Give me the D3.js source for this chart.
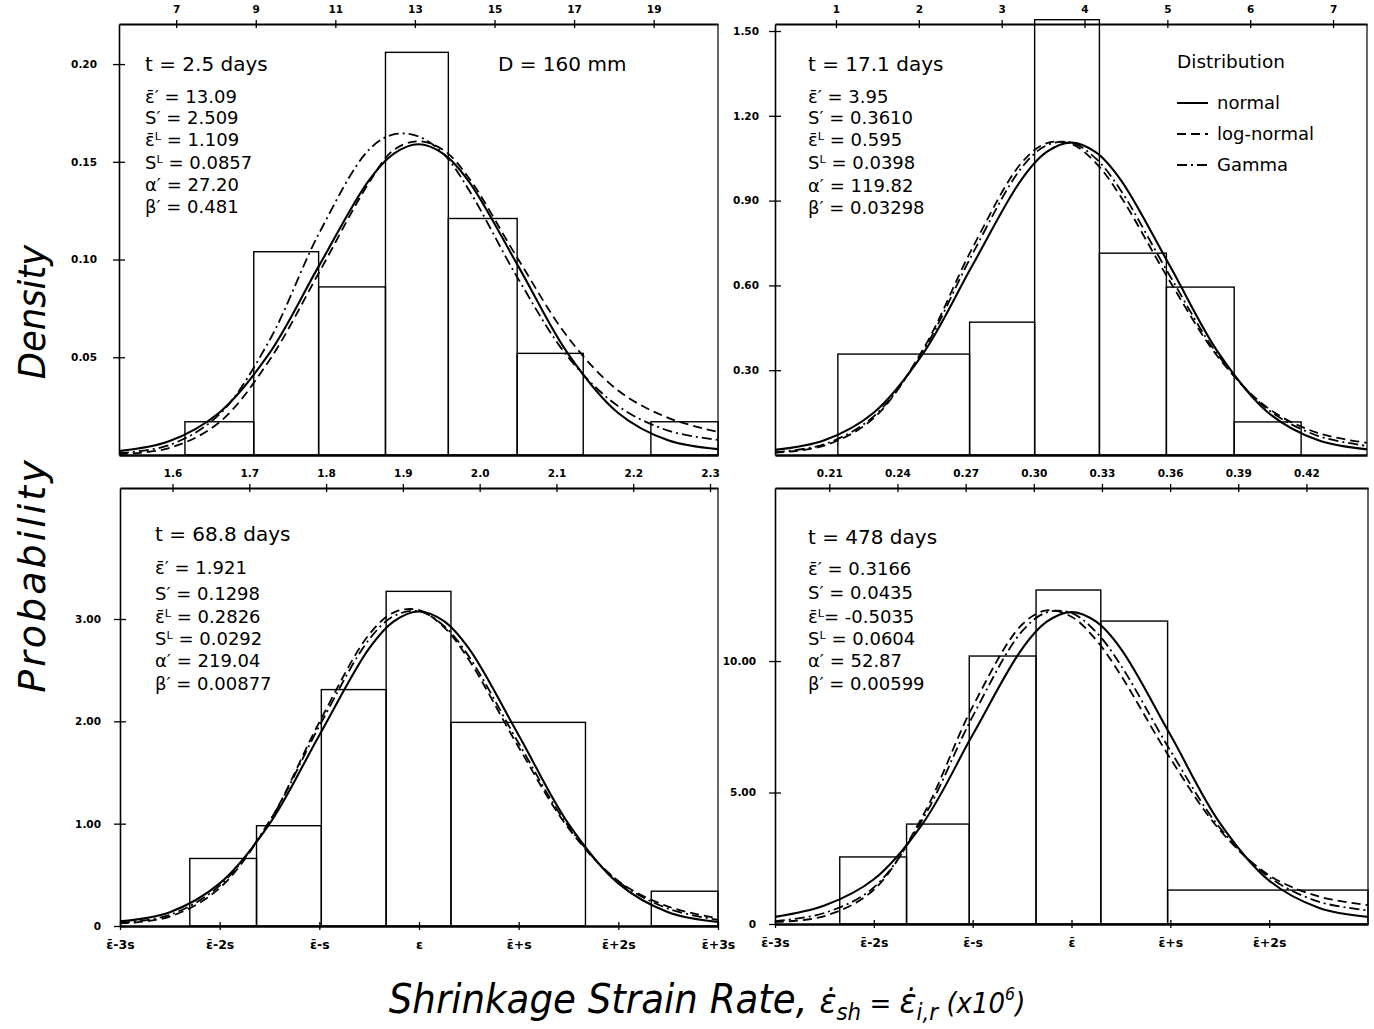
<!DOCTYPE html>
<html>
<head>
<meta charset="utf-8">
<script src="https://cdn.jsdelivr.net/npm/d3@7"></script>
<style>
  body { margin: 0; background: #fff; }
  svg { display: block; }
  text { font-family: "DejaVu Sans", "Noto Sans", sans-serif; fill: #000; }
</style>
</head>
<body>
<svg id="chart" width="1374" height="1029"></svg>
<script>
// ---------- Panel A: t = 2.5 days ----------
const aMean = 13.09, aSd = 2.509;
const aEdges = [7.22, 8.95, 10.58, 12.26, 13.84, 15.57, 17.23, 18.93, 20.62];
const aHeights = [0.017, 0.104, 0.086, 0.206, 0.121, 0.052, 0, 0.017];
const aCurveX = [5.563, 6.818, 8.072, 9.327, 10.581, 11.836, 12.463, 13.09, 13.717, 14.345, 15.599, 16.854, 18.108, 19.363, 20.617];
const aNormal = [0.0020, 0.0070, 0.0215, 0.0516, 0.0965, 0.1403, 0.1541, 0.1590, 0.1541, 0.1403, 0.0965, 0.0516, 0.0215, 0.0075, 0.0030];
const aLogNormal = [0.0005, 0.0035, 0.0165, 0.0480, 0.0930, 0.1390, 0.1560, 0.1605, 0.1560, 0.1420, 0.1000, 0.0600, 0.0330, 0.0190, 0.0118];
const aGamma = [0.0010, 0.0050, 0.0205, 0.0580, 0.1130, 0.1560, 0.1640, 0.1630, 0.1540, 0.1360, 0.0900, 0.0500, 0.0250, 0.0125, 0.0077];
const aTopTicks = [7, 9, 11, 13, 15, 17, 19];
const aYTicks = [0.05, 0.10, 0.15, 0.20];
const aYLabels = ["0.05", "0.10", "0.15", "0.20"];
const aLines = ["ε̄′ = 13.09", "S′ = 2.509", "ε̄ᴸ = 1.109", "Sᴸ = 0.0857", "α′ = 27.20", "β′ = 0.481"];

// ---------- Panel B: t = 17.1 days ----------
const bMean = 3.95, bSd = 0.3610;
const bEdges = [3.097, 3.579, 3.817, 4.054, 4.299, 4.547, 4.792];
const bHeights = [0.357, 0.47, 1.54, 0.714, 0.594, 0.117];
const bCurveX = [2.867, 3.0475, 3.228, 3.4085, 3.589, 3.7695, 3.8598, 3.95, 4.0403, 4.1305, 4.311, 4.4915, 4.672, 4.8525, 5.033];
const bNormal = [0.0180, 0.0520, 0.1496, 0.3587, 0.6704, 0.9753, 1.0712, 1.1050, 1.0712, 0.9753, 0.6704, 0.3587, 0.1496, 0.0530, 0.0200];
const bLogNormal = [0.0080, 0.0330, 0.1303, 0.3736, 0.7318, 1.0343, 1.1026, 1.1012, 1.0339, 0.9167, 0.6156, 0.3423, 0.1650, 0.0780, 0.0430];
const bGamma = [0.0100, 0.0380, 0.1366, 0.3675, 0.7104, 1.0167, 1.0949, 1.1061, 1.0493, 0.9387, 0.6352, 0.3486, 0.1600, 0.0680, 0.0320];
const bTopTicks = [1, 2, 3, 4, 5, 6, 7];
const bTopDomain = [0.264, 7.41];
const bYTicks = [0.30, 0.60, 0.90, 1.20, 1.50];
const bYLabels = ["0.30", "0.60", "0.90", "1.20", "1.50"];
const bLines = ["ε̄′ = 3.95", "S′ = 0.3610", "ε̄ᴸ = 0.595", "Sᴸ = 0.0398", "α′ = 119.82", "β′ = 0.03298"];

// ---------- Panel C: t = 68.8 days ----------
const cMean = 1.921, cSd = 0.1298;
const cEdges = [1.6225, 1.7094, 1.7938, 1.8782, 1.9626, 2.1378, 2.2235, 2.3104];
const cHeights = [0.66, 0.98, 2.31, 3.27, 1.99, 0, 0.34];
const cCurveX = [1.5316, 1.5965, 1.6614, 1.7263, 1.7912, 1.8561, 1.8886, 1.921, 1.9535, 1.9859, 2.0508, 2.1157, 2.1806, 2.2455, 2.3104];
const cNormal = [0.0450, 0.1348, 0.4160, 0.9977, 1.8644, 2.7126, 2.9792, 3.0735, 2.9792, 2.7126, 1.8644, 0.9977, 0.4160, 0.1348, 0.0400];
const cLogNormal = [0.0250, 0.0919, 0.3714, 1.0218, 1.9912, 2.8494, 3.0651, 3.0869, 2.9199, 2.6018, 1.7471, 0.9554, 0.4400, 0.1900, 0.0750];
const cGamma = [0.0300, 0.1088, 0.3946, 1.0224, 1.9544, 2.8010, 3.0299, 3.0761, 2.9322, 2.6346, 1.7865, 0.9726, 0.4350, 0.1700, 0.0600];
const cTopTicks = [1.6, 1.7, 1.8, 1.9, 2.0, 2.1, 2.2, 2.3];
const cYTicks = [0, 1, 2, 3];
const cYLabels = ["0", "1.00", "2.00", "3.00"];
const cSigmaTicks = [-3, -2, -1, 0, 1, 2, 3];
const cSigmaLabels = ["ε̄-3s", "ε̄-2s", "ε̄-s", "ε", "ε̄+s", "ε̄+2s", "ε̄+3s"];
const cLines = ["ε̄′ = 1.921", "S′ = 0.1298", "ε̄ᴸ = 0.2826", "Sᴸ = 0.0292", "α′ = 219.04", "β′ = 0.00877"];

// ---------- Panel D: t = 478 days ----------
const dMean = 0.3166, dSd = 0.0435;
const dEdges = [0.2146, 0.2440, 0.2716, 0.3010, 0.3295, 0.3589, 0.4471];
const dHeights = [2.55, 3.80, 10.19, 12.70, 11.52, 1.29];
const dCurveX = [0.1861, 0.20785, 0.2296, 0.25135, 0.2731, 0.29485, 0.30573, 0.3166, 0.32748, 0.33835, 0.3601, 0.38185, 0.4036, 0.42535, 0.4471];
const dNormal = [0.270, 0.700, 1.700, 3.849, 7.193, 10.466, 11.495, 11.860, 11.495, 10.466, 7.193, 3.849, 1.650, 0.620, 0.270];
const dLogNormal = [0.080, 0.300, 1.303, 4.146, 8.265, 11.389, 11.924, 11.687, 10.797, 9.452, 6.297, 3.574, 1.850, 1.050, 0.720];
const dGamma = [0.110, 0.420, 1.390, 4.025, 7.895, 11.134, 11.853, 11.828, 11.098, 9.832, 6.594, 3.658, 1.780, 0.850, 0.520];
const dTopTicks = [0.21, 0.24, 0.27, 0.30, 0.33, 0.36, 0.39, 0.42];
const dYTicks = [0, 5, 10];
const dYLabels = ["0", "5.00", "10.00"];
const dSigmaTicks = [-3, -2, -1, 0, 1, 2];
const dSigmaLabels = ["ε̄-3s", "ε̄-2s", "ε̄-s", "ε̄", "ε̄+s", "ε̄+2s"];
const dLines = ["ε̄′ = 0.3166", "S′ = 0.0435", "ε̄ᴸ= -0.5035", "Sᴸ = 0.0604", "α′ = 52.87", "β′ = 0.00599"];

// Legend entries
const legendNames = ["normal", "log-normal", "Gamma"];

// ---------- drawing ----------
const svg = d3.select("#chart");
const dashes = ["none", "9,5", "10,4,2,4"];
const tickFont = "DejaVu Sans";

function styleTicks(sel, size) {
  sel.selectAll(".tick text").attr("font-size", size).attr("font-weight", "bold").attr("font-family", tickFont);
}

function drawPanel(p) {
  const b = p.box;
  const x = d3.scaleLinear().domain([p.mean - 3 * p.sd, p.mean + 3 * p.sd]).range([b.x0, b.x1]);
  const y = d3.scaleLinear().domain(p.yDomain).range([b.y1, b.y0]);
  const g = svg.append("g");

  // histogram
  const bars = p.heights.map((h, i) => ({ lo: p.edges[i], hi: p.edges[i + 1], h })).filter(d => d.h > 0);
  g.selectAll("rect.bar").data(bars).join("rect")
    .attr("class", "bar")
    .attr("x", d => x(d.lo)).attr("width", d => x(d.hi) - x(d.lo))
    .attr("y", d => y(d.h)).attr("height", d => y(0) - y(d.h))
    .attr("fill", "none").attr("stroke", "#000").attr("stroke-width", 1.4);

  // fitted curves
  const line = d3.line().x(d => x(d[0])).y(d => y(d[1])).curve(d3.curveCatmullRom.alpha(0.5));
  [p.normal, p.logNormal, p.gamma].forEach((vals, k) => {
    g.append("path")
      .attr("d", line(p.curveX.map((v, i) => [v, vals[i]])))
      .attr("fill", "none").attr("stroke", "#000")
      .attr("stroke-width", k === 0 ? 2.1 : 1.8)
      .attr("stroke-dasharray", dashes[k]);
  });

  // top axis
  const topScale = p.topDomain
    ? d3.scaleLinear().domain(p.topDomain).range([b.x0, b.x1])
    : x;
  const topAx = g.append("g").attr("transform", `translate(0,${b.y0})`)
    .call(d3.axisTop(topScale).tickValues(p.topTicks).tickSizeOuter(0).tickPadding(5)
      .tickFormat(d3.format(p.topFormat)));
  topAx.select(".domain").attr("stroke-width", 2);
  topAx.selectAll(".tick line").attr("y1", 4).attr("y2", -4).attr("stroke-width", 1.3);
  styleTicks(topAx, 10.5);

  // left axis
  const leftAx = g.append("g").attr("transform", `translate(${b.x0},0)`)
    .call(d3.axisLeft(y).tickValues(p.yTicks).tickSizeOuter(0).tickPadding(p.yPad)
      .tickFormat((d, i) => p.yLabels[i]));
  leftAx.select(".domain").attr("stroke-width", 1.6);
  leftAx.selectAll(".tick line").attr("x1", -6).attr("x2", 6).attr("stroke-width", 1.3);
  styleTicks(leftAx, 10.5);

  // bottom axis
  const bottomAx = g.append("g").attr("transform", `translate(0,${b.y1})`);
  if (p.sigmaTicks) {
    bottomAx.call(d3.axisBottom(x).tickValues(p.sigmaTicks.map(k => p.mean + k * p.sd))
      .tickSizeOuter(0).tickPadding(8).tickFormat((d, i) => p.sigmaLabels[i]));
    bottomAx.selectAll(".tick line").attr("y1", -4).attr("y2", 4).attr("stroke-width", 1.3);
    styleTicks(bottomAx, 12.5);
  } else {
    bottomAx.call(d3.axisBottom(x).tickValues([]).tickSizeOuter(0));
  }
  bottomAx.select(".domain").attr("stroke-width", 2.6);

  // right border
  g.append("line").attr("x1", b.x1).attr("x2", b.x1).attr("y1", b.y0).attr("y2", b.y1)
    .attr("stroke", "#000").attr("stroke-width", 1.2);

  // annotation block
  g.append("text").attr("x", p.textX).attr("y", p.titleY).attr("font-size", 20).text(p.title);
  g.selectAll("text.stat").data(p.lines).join("text")
    .attr("class", "stat")
    .attr("x", p.textX).attr("y", (d, i) => p.linesY[i])
    .attr("font-size", 18).text(d => d);
  return g;
}

drawPanel({
  box: { x0: 119, x1: 718, y0: 24, y1: 455 }, mean: aMean, sd: aSd, yDomain: [0, 0.2205],
  edges: aEdges, heights: aHeights, curveX: aCurveX, normal: aNormal, logNormal: aLogNormal, gamma: aGamma,
  topTicks: aTopTicks, topFormat: "d", yTicks: aYTicks, yLabels: aYLabels, yPad: 16,
  title: "t  = 2.5 days", textX: 145, titleY: 71, lines: aLines, linesY: [103, 124, 146, 169, 191, 213]
});
drawPanel({
  box: { x0: 775, x1: 1367, y0: 24, y1: 455 }, mean: bMean, sd: bSd, yDomain: [0, 1.5248],
  edges: bEdges, heights: bHeights, curveX: bCurveX, normal: bNormal, logNormal: bLogNormal, gamma: bGamma,
  topTicks: bTopTicks, topDomain: bTopDomain, topFormat: "d", yTicks: bYTicks, yLabels: bYLabels, yPad: 10,
  title: "t  = 17.1 days", textX: 808, titleY: 71, lines: bLines, linesY: [103, 124, 146, 169, 192, 214]
});
drawPanel({
  box: { x0: 120, x1: 718, y0: 488, y1: 926 }, mean: cMean, sd: cSd, yDomain: [0, 4.28],
  edges: cEdges, heights: cHeights, curveX: cCurveX, normal: cNormal, logNormal: cLogNormal, gamma: cGamma,
  topTicks: cTopTicks, topFormat: ".1f", yTicks: cYTicks, yLabels: cYLabels, yPad: 13,
  sigmaTicks: cSigmaTicks, sigmaLabels: cSigmaLabels,
  title: "t  = 68.8 days", textX: 155, titleY: 541, lines: cLines, linesY: [574, 600, 623, 645, 667, 690]
});
drawPanel({
  box: { x0: 775, x1: 1368, y0: 488, y1: 924 }, mean: dMean, sd: dSd, yDomain: [0, 16.58],
  edges: dEdges, heights: dHeights, curveX: dCurveX, normal: dNormal, logNormal: dLogNormal, gamma: dGamma,
  topTicks: dTopTicks, topFormat: ".2f", yTicks: dYTicks, yLabels: dYLabels, yPad: 13,
  sigmaTicks: dSigmaTicks, sigmaLabels: dSigmaLabels,
  title: "t = 478    days", textX: 808, titleY: 544, lines: dLines, linesY: [575, 599, 623, 645, 667, 690]
});

// specimen size note
svg.append("text").attr("x", 498).attr("y", 71).attr("font-size", 20).text("D = 160 mm");

// legend
const lg = svg.append("g");
lg.append("text").attr("x", 1177).attr("y", 68).attr("font-size", 18.5).text("Distribution");
legendNames.forEach((name, k) => {
  const yy = 103 + k * 31;
  lg.append("line").attr("x1", 1177).attr("x2", 1208).attr("y1", yy).attr("y2", yy)
    .attr("stroke", "#000").attr("stroke-width", 2).attr("stroke-dasharray", dashes[k]);
  lg.append("text").attr("x", 1217).attr("y", yy + 6).attr("font-size", 18).text(name);
});

// axis titles
const titleFont = "'DejaVu Sans', sans-serif";
svg.append("text").attr("transform", "translate(45,312) rotate(-90) scale(0.93,1)")
  .attr("text-anchor", "middle").attr("font-size", 38).attr("font-style", "italic")
  .attr("font-family", titleFont).text("Density");
svg.append("text").attr("transform", "translate(45,575) rotate(-90)")
  .attr("text-anchor", "middle").attr("font-size", 38).attr("font-style", "italic")
  .attr("font-family", titleFont).attr("letter-spacing", 3).text("Probability");

const xt = svg.append("text").attr("transform", "translate(707,1013) scale(0.93,1)")
  .attr("text-anchor", "middle").attr("font-family", titleFont)
  .attr("font-style", "italic").attr("font-size", 40);
xt.append("tspan").text("Shrinkage  Strain  Rate,   ");
xt.append("tspan").attr("font-size", 34).text("ε̇");
xt.append("tspan").attr("font-size", 23).attr("dy", 7).text("sh");
xt.append("tspan").attr("font-size", 28).attr("dy", -7).text(" = ");
xt.append("tspan").attr("font-size", 34).text("ε̇");
xt.append("tspan").attr("font-size", 23).attr("dy", 7).text("i,r");
xt.append("tspan").attr("font-size", 28).attr("dy", -7).text("  (x10");
xt.append("tspan").attr("font-size", 17).attr("dy", -13).text("6");
xt.append("tspan").attr("font-size", 28).attr("dy", 13).text(")");
</script>
</body>
</html>
